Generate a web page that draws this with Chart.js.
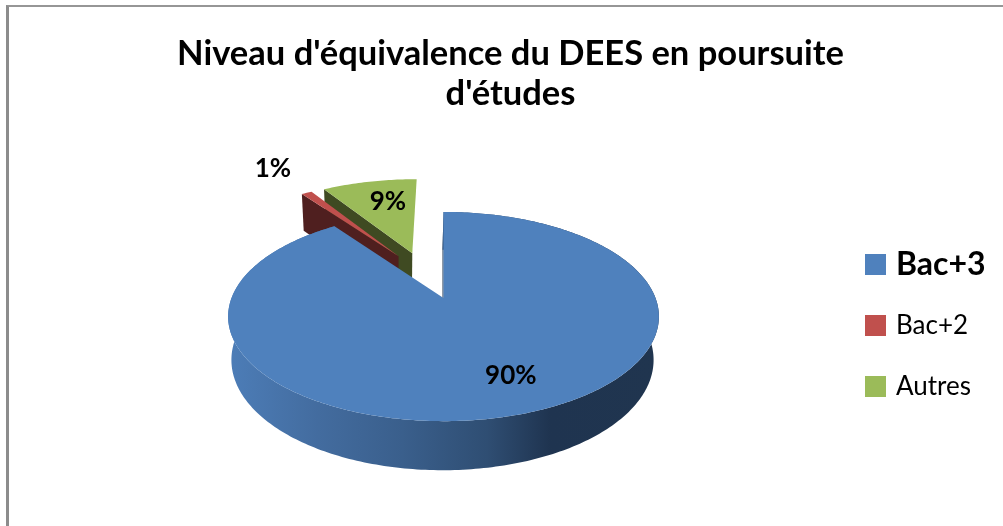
<!DOCTYPE html>
<html>
<head>
<meta charset="utf-8">
<style>
html,body{margin:0;padding:0;background:#fff;overflow:hidden;}
#box{position:absolute;left:0;top:0;width:1003px;height:526px;}
#frame{position:absolute;left:6px;top:5px;right:0;bottom:0;border-left:3px solid #8c8c8c;border-top:2px solid #969696;}
canvas{position:absolute;left:0;top:0;}
</style>
<script src="https://cdn.jsdelivr.net/npm/chart.js@4/dist/chart.umd.min.js"></script>
</head>
<body>
<div id="box"><div id="frame"></div><canvas id="pie"></canvas></div>
<script>
var title_lines = ["Niveau d'équivalence du DEES en poursuite", "d'études"];
var categories = ['Bac+3', 'Bac+2', 'Autres'];
var percent_values = [90, 1, 9];

var face_colors = ['#4f81bd', '#c0504d', '#9bbb59'];
var wall_colors = ['#1f3450', '#4f1f1f', '#3f4a22'];

// explosion and label placement, in pie radius units / degrees
var explode = [0, 0.5, 0.506];
var explode_skew = [0, 7, -2.2];
var label_radius = [0.733, 1.45, 0.68];
var label_skew = [-4.4, 0.2, 3];

var FONT = 'Lato, Carlito, sans-serif';
var TILT = 0.478, PERSP = 0.177, DEPTH = 42.4;
var PIE_SHIFT = -67; // title is centred on the whole chart, the pie leaves room for the legend

function deg(d){ return d * Math.PI / 180; }

// pie plane -> screen. v>0 is towards the viewer, z=1 is the bottom of the pie
function project(arc, u, v, z){
	var s = 1 / (1 - PERSP * v), k = 1 - 0.02 * z, R = arc.outerRadius;
	return {
		x: arc.x + PIE_SHIFT - z + k * R * u * s,
		y: arc.y + k * R * TILT * v * s + z * DEPTH * s
	};
}

function rim(arc, a, o, z){
	return project(arc, o.x + Math.cos(a), o.y + Math.sin(a), z);
}

function trace(ctx, pts){
	ctx.beginPath();
	pts.forEach(function(p, i){ if(i==0) ctx.moveTo(p.x, p.y); else ctx.lineTo(p.x, p.y); });
	ctx.closePath();
}

function rim_points(arc, o, z){
	var pts = [], n = Math.max(4, Math.ceil((arc.endAngle - arc.startAngle) * 60));
	for(var i = 0; i <= n; i++){
		pts.push(rim(arc, arc.startAngle + (arc.endAngle - arc.startAngle) * i / n, o, z));
	}
	return pts;
}

function draw_slice(ctx, arc, i){
	var mid = (arc.startAngle + arc.endAngle) / 2 + deg(explode_skew[i]);
	var o = {x: explode[i] * Math.cos(mid), y: explode[i] * Math.sin(mid)};
	var top_c = project(arc, o.x, o.y, 0), bot_c = project(arc, o.x, o.y, 1);
	var top_rim = rim_points(arc, o, 0);

	// cut wall on the left of the slice
	ctx.fillStyle = wall_colors[i];
	trace(ctx, [top_c, rim(arc, arc.startAngle, o, 0), rim(arc, arc.startAngle, o, 1), bot_c]);
	ctx.fill();

	// only the big slice shows its outer wall
	if(i==0){
		var cx = arc.x + PIE_SHIFT;
		var g = ctx.createLinearGradient(cx - 210, 0, cx + 212, 0);
		g.addColorStop(0, '#4c7cb6');
		g.addColorStop(0.2, '#436c9f');
		g.addColorStop(0.4, '#3a5f8c');
		g.addColorStop(0.6, '#2f4e73');
		g.addColorStop(0.75, '#1f3450');
		g.addColorStop(1, '#20354f');
		ctx.fillStyle = g;
		trace(ctx, top_rim.concat(rim_points(arc, o, 1).reverse()));
		ctx.fill();
	}

	// top face
	ctx.fillStyle = face_colors[i];
	trace(ctx, [top_c].concat(top_rim));
	ctx.fill();
}

var pie3d = {
	id: 'pie3d',
	beforeDatasetDraw: function(chart, args){
		var ctx = chart.ctx, arcs = args.meta.data;
		ctx.save();
		// far slices first, the big one covers their feet
		[2, 1, 0].forEach(function(i){ draw_slice(ctx, arcs[i], i); });
		ctx.restore();
		return false;
	},
	afterDatasetsDraw: function(chart){
		var ctx = chart.ctx, arcs = chart.getDatasetMeta(0).data;
		ctx.save();
		ctx.fillStyle = '#000';
		ctx.textAlign = 'center';
		ctx.textBaseline = 'middle';
		ctx.font = 'bold 26px ' + FONT;
		arcs.forEach(function(arc, i){
			var mid = (arc.startAngle + arc.endAngle) / 2;
			var m2 = mid + deg(explode_skew[i]);
			var la = mid + deg(label_skew[i]);
			var p = project(arc,
				explode[i] * Math.cos(m2) + label_radius[i] * Math.cos(la),
				explode[i] * Math.sin(m2) + label_radius[i] * Math.sin(la), 0);
			ctx.fillText(percent_values[i] + '%', p.x, p.y);
		});
		// legend, first entry is highlighted so the built in one can't do it
		ctx.textAlign = 'left';
		categories.forEach(function(c, i){
			var y = 264.5 + i * 61;
			ctx.fillStyle = face_colors[i];
			ctx.fillRect(865, y - 10.5, 21, 21);
			ctx.fillStyle = '#000';
			ctx.font = i==0 ? 'bold 32px ' + FONT : '26px ' + FONT;
			ctx.fillText(c, 896, y);
		});
		ctx.restore();
	}
};

new Chart(document.getElementById('pie'), {
	type: 'pie',
	data: {
		labels: categories,
		datasets: [{data: percent_values, backgroundColor: face_colors, borderWidth: 0}]
	},
	options: {
		responsive: true,
		maintainAspectRatio: false,
		animation: false,
		radius: 212,
		layout: {padding: {left: 18, right: 0, top: 34, bottom: 44}},
		plugins: {
			legend: {display: false},
			tooltip: {enabled: false},
			title: {
				display: true,
				text: title_lines,
				color: '#000',
				font: {family: FONT, size: 34.5, weight: 'bold', lineHeight: 1.16},
				padding: 0
			}
		}
	},
	plugins: [pie3d]
});
</script>
</body>
</html>
